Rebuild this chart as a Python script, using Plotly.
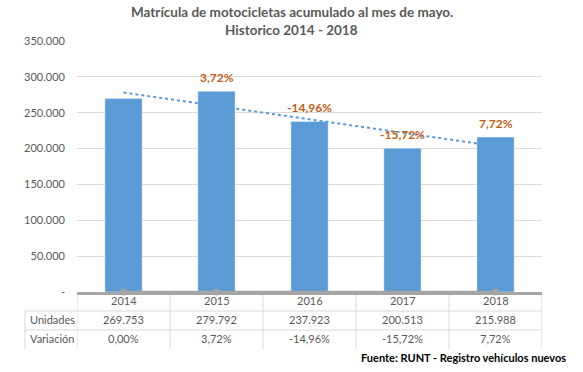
import plotly.graph_objects as go

years = ["2014", "2015", "2016", "2017", "2018"]
unidades = [269753, 279792, 237923, 200513, 215988]
variacion = [0.0, 0.0372, -0.1496, -0.1572, 0.0772]
y_ticks = [0, 50000, 100000, 150000, 200000, 250000, 300000, 350000]

title_lines = ["Matrícula de motocicletas acumulado al mes de mayo.", "Historico 2014 - 2018"]
source_text = "Fuente: RUNT - Registro vehículos nuevos"
row_labels = ["Unidades", "Variación"]

FONT = "Lato"
GRAY_TXT = "#595959"
BAR = "#5B9BD5"
ORANGE = "#C55A11"
GRID = "#D9D9D9"
LINE_GRAY = "#A5A5A5"


def fmt_int(v):
    return f"{v:,}".replace(",", ".")


def fmt_pct(v):
    return f"{v*100:.2f}".replace(".", ",") + "%"


# linear trendline (least squares) of the unit series
n = len(unidades)
xs = list(range(n))
mx = sum(xs) / n
my = sum(unidades) / n
slope = sum((x - mx) * (y - my) for x, y in zip(xs, unidades)) / sum((x - mx) ** 2 for x in xs)
trend = [my + slope * (x - mx) for x in xs]

fig = go.Figure()
fig.add_trace(go.Bar(x=years, y=unidades, marker_color=BAR, width=0.4, hoverinfo="skip"))
fig.add_trace(go.Scatter(x=years, y=trend, mode="lines",
                         line=dict(color=BAR, width=2, dash="dot"), hoverinfo="skip"))
fig.add_trace(go.Scatter(x=years, y=variacion, mode="lines+markers",
                         line=dict(color=LINE_GRAY, width=2.5),
                         marker=dict(color=LINE_GRAY, size=7), hoverinfo="skip", cliponaxis=False))

PLOT_TOP, PLOT_BOT, PLOT_L, PLOT_R = 41, 292, 77, 542


def py(p):
    return (PLOT_BOT - p) / (PLOT_BOT - PLOT_TOP)


def px(p):
    return (p - PLOT_L) / (PLOT_R - PLOT_L)


annotations = []
# title (two lines)
for line, yc in zip(title_lines, (12, 30)):
    annotations.append(dict(x=px(291.5), y=py(yc), xref="paper", yref="paper",
                            xanchor="center", yanchor="middle",
                            text=f"<b>{line}</b>", showarrow=False,
                            font=dict(family=FONT, size=13.5, color=GRAY_TXT)))

# data labels (variation) above bars, skipping the base year
for i in range(1, n):
    annotations.append(dict(x=i, y=unidades[i], xref="x", yref="y",
                            text=f"<b>{fmt_pct(variacion[i])}</b>",
                            showarrow=False, yshift=14, xanchor="center", yanchor="middle",
                            font=dict(family=FONT, size=12, color=ORANGE)))

# data table
row_y = [py(300), py(319), py(338)]
for i, yr in enumerate(years):
    for txt, yy in ((yr, row_y[0]), (fmt_int(unidades[i]), row_y[1]), (fmt_pct(variacion[i]), row_y[2])):
        annotations.append(dict(x=i, y=yy, xref="x", yref="paper", text=txt, showarrow=False,
                                xanchor="center", yanchor="middle",
                                font=dict(family=FONT, size=11, color=GRAY_TXT)))
for lab, yy in zip(row_labels, row_y[1:]):
    annotations.append(dict(x=px(28), y=yy, xref="paper", yref="paper", text=lab, showarrow=False,
                            xanchor="left", yanchor="middle",
                            font=dict(family=FONT, size=11, color=GRAY_TXT)))

annotations.append(dict(x=px(568), y=py(357), xref="paper", yref="paper",
                        text=f"<b>{source_text}</b>", showarrow=False,
                        xanchor="right", yanchor="middle",
                        font=dict(family=FONT, size=11, color="#000000")))

shapes = []
line_style = dict(color=GRID, width=1)
for k in range(n + 1):
    shapes.append(dict(type="line", xref="x", yref="paper", x0=k - 0.5, x1=k - 0.5,
                       y0=0, y1=py(349), line=line_style, layer="below"))
shapes.append(dict(type="line", xref="paper", yref="paper", x0=px(25), x1=px(25),
                   y0=py(311), y1=py(349), line=line_style))
for p in (311, 330):
    shapes.append(dict(type="line", xref="paper", yref="paper", x0=px(25), x1=1,
                       y0=py(p), y1=py(p), line=line_style))

fig.update_layout(
    width=583, height=372,
    margin=dict(l=PLOT_L, r=583 - PLOT_R, t=PLOT_TOP, b=372 - PLOT_BOT),
    paper_bgcolor="white", plot_bgcolor="white",
    showlegend=False,
    font=dict(family=FONT, size=11, color=GRAY_TXT),
    annotations=annotations, shapes=shapes,
    xaxis=dict(type="category", range=[-0.5, n - 0.5], showticklabels=False,
               showgrid=False, zeroline=False, showline=True, linecolor=LINE_GRAY,
               linewidth=2.5, fixedrange=True, layer="below traces"),
    yaxis=dict(range=[0, 350000], tickvals=y_ticks,
               ticktext=[fmt_int(v) if v else "-" for v in y_ticks],
               showgrid=True, gridcolor=GRID, gridwidth=1, zeroline=False,
               showline=False, ticks="", ticklabelstandoff=11,
               tickfont=dict(family=FONT, size=11, color=GRAY_TXT)),
)

fig.write_html("out.html", config={"displayModeBar": False},
               post_script="document.body.style.margin='0';document.body.style.overflow='hidden';")
